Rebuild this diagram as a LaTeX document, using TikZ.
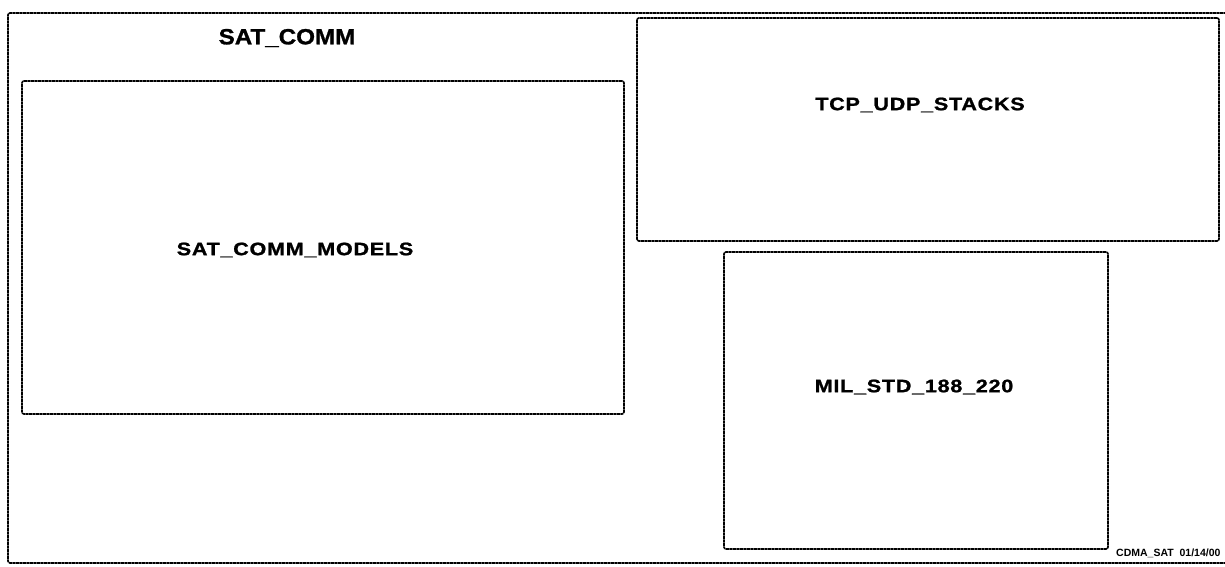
\documentclass[tikz,border=0pt]{standalone}
\usepackage{fontspec}
\setmainfont{Liberation Sans}
\usetikzlibrary{positioning, calc}

\tikzset{
  boxline/.style={draw, rectangle, rounded corners=2pt, line width=1.6pt,
    dash pattern=on 3pt off 0.5pt, inner sep=0pt},
  boxlabel/.style={font=\fontsize{18}{20}\selectfont\bfseries\addfontfeature{FakeStretch=1.2, LetterSpace=4, FakeBold=1.2}, inner sep=0pt},
}

\begin{document}
\begin{tikzpicture}[x=1pt, y=-1pt]
  \useasboundingbox (0,0) rectangle (1225,567);
  \begin{scope}
  \clip (0,0) rectangle (1225,567);
  % outer package frame
  \node[boxline, minimum width=1224pt, minimum height=550pt] (satcomm) at (620,288) {};
  \node[font=\fontsize{22}{24}\selectfont\bfseries\addfontfeature{FakeStretch=1.1, FakeBold=1.2}, inner sep=0pt] (satcommlbl) at (287,38) {SAT\_COMM};
  % sub packages
  \node[boxline, minimum width=602pt, minimum height=333pt] (models) at (323,247.5) {};
  \node[boxline, minimum width=582pt, minimum height=223pt] (stacks) at (928,129.5) {};
  \node[boxline, minimum width=384pt, minimum height=297pt] (milstd) at (916,400.5) {};
  \node[boxlabel] (modelslbl) at (295,250) {SAT\_COMM\_MODELS};
  \node[boxlabel] (stackslbl) at (920,105) {TCP\_UDP\_STACKS};
  \node[boxlabel] (milstdlbl) at (914,387) {MIL\_STD\_188\_220};
  % stamp
  \node[font=\fontsize{10.5}{11}\selectfont\bfseries, anchor=base west, inner sep=0pt] (stamp) at (1116,556) {CDMA\_SAT\ \ 01/14/00};
  \end{scope}
\end{tikzpicture}
\end{document}
